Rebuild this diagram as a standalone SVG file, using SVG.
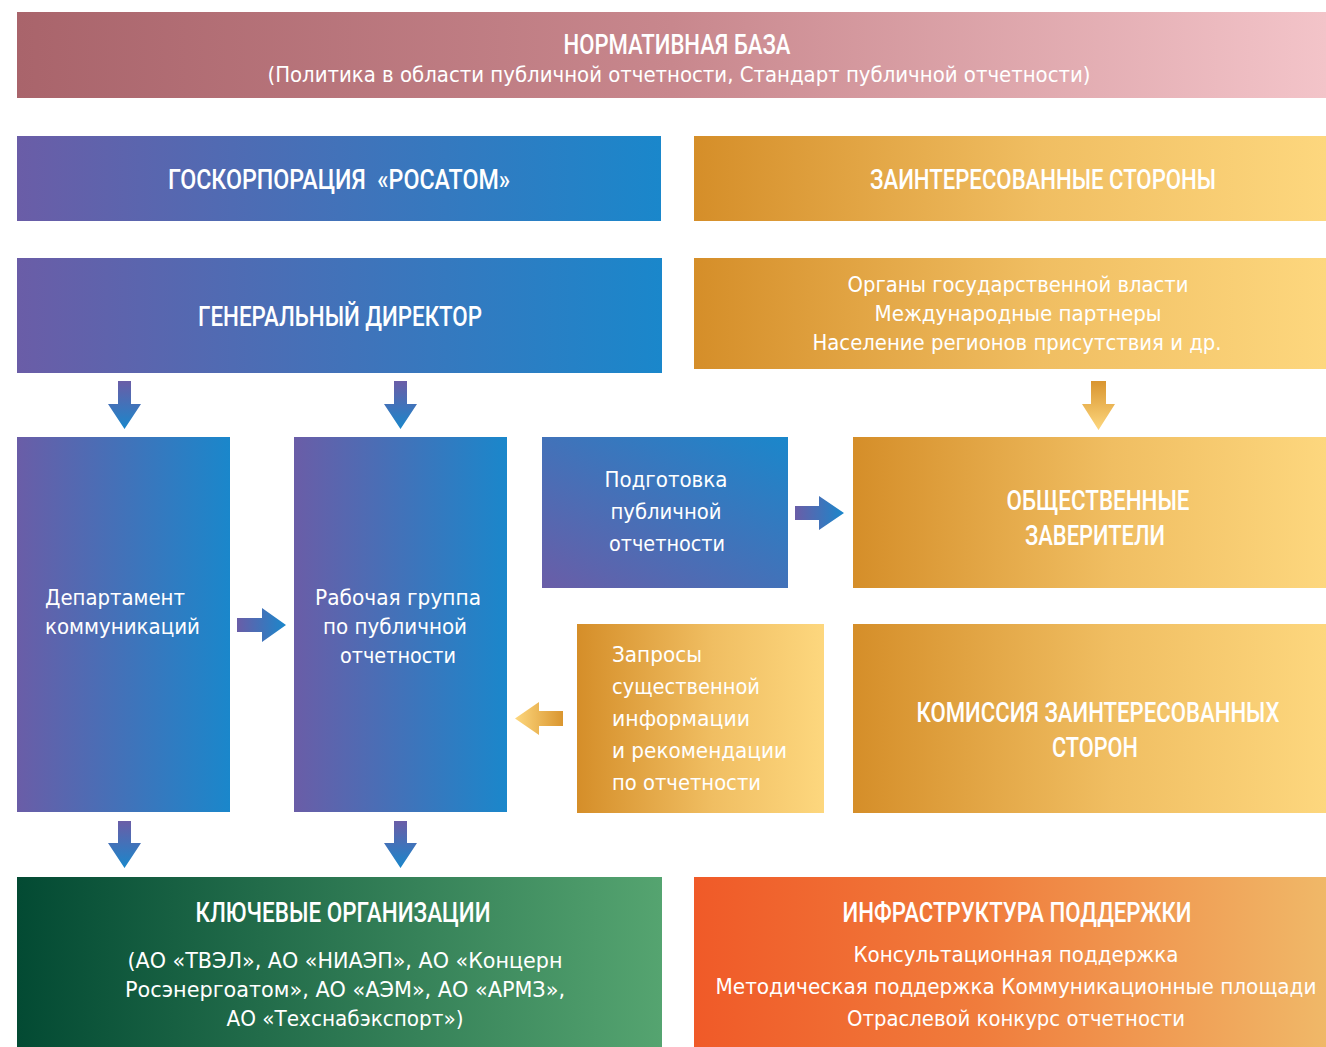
<svg xmlns="http://www.w3.org/2000/svg" width="1326" height="1047" viewBox="0 0 1326 1047">
<defs>
<linearGradient id="gPink" x1="0" y1="0" x2="1" y2="0"><stop offset="0" stop-color="#A9646B"/><stop offset="0.5" stop-color="#C8878D"/><stop offset="1" stop-color="#F3C4C9"/></linearGradient>
<linearGradient id="gBlueH" x1="0" y1="0" x2="1" y2="0"><stop offset="0" stop-color="#6A5DA7"/><stop offset="1" stop-color="#1A87CB"/></linearGradient>
<linearGradient id="gBlueD" x1="0" y1="1" x2="1" y2="0"><stop offset="0" stop-color="#6A5DA7"/><stop offset="1" stop-color="#1A87CB"/></linearGradient>
<linearGradient id="gBlueV" x1="0" y1="0" x2="0" y2="1"><stop offset="0" stop-color="#6A5DA7"/><stop offset="1" stop-color="#1A87CB"/></linearGradient>
<linearGradient id="gOrH" x1="0" y1="0" x2="1" y2="0"><stop offset="0" stop-color="#D58E29"/><stop offset="0.55" stop-color="#F0BE62"/><stop offset="1" stop-color="#FDD77E"/></linearGradient>
<linearGradient id="gOrV" x1="0" y1="0" x2="0" y2="1"><stop offset="0" stop-color="#D9952F"/><stop offset="1" stop-color="#FDD77E"/></linearGradient>
<linearGradient id="gOrL" x1="1" y1="0" x2="0" y2="0"><stop offset="0" stop-color="#DA962F"/><stop offset="1" stop-color="#FDD77E"/></linearGradient>
<linearGradient id="gGreen" x1="0" y1="0" x2="1" y2="0"><stop offset="0" stop-color="#034A33"/><stop offset="1" stop-color="#55A470"/></linearGradient>
<linearGradient id="gInfra" x1="0" y1="0" x2="1" y2="0"><stop offset="0" stop-color="#F05A28"/><stop offset="0.45" stop-color="#F07C3C"/><stop offset="1" stop-color="#F0B868"/></linearGradient>
</defs>
<style>
text{font-family:"Liberation Sans Narrow","DejaVu Sans Condensed","Roboto Condensed",sans-serif;fill:#ffffff;}
.h{font-family:Roboto,"DejaVu Sans Condensed",sans-serif;font-size:28px;font-weight:500;text-anchor:middle;}
.t{font-size:22px;text-anchor:middle;}
.l{font-size:22px;}
</style>

<g id="normativnaya-baza">
<rect x="17" y="12" width="1309" height="86" fill="url(#gPink)"/>
<text class="h" x="677" y="54" textLength="227" lengthAdjust="spacingAndGlyphs">НОРМАТИВНАЯ БАЗА</text>
<text class="t" x="679" y="82" textLength="823" lengthAdjust="spacingAndGlyphs">(Политика в области публичной отчетности, Стандарт публичной отчетности)</text>
</g>

<g id="rosatom">
<rect x="17" y="136" width="644" height="85" fill="url(#gBlueH)"/>
<text class="h" x="339" y="189" textLength="342" lengthAdjust="spacingAndGlyphs" style="white-space:pre">ГОСКОРПОРАЦИЯ  «РОСАТОМ»</text>
</g>

<g id="stakeholders">
<rect x="694" y="136" width="632" height="85" fill="url(#gOrH)"/>
<text class="h" x="1043" y="189" textLength="346" lengthAdjust="spacingAndGlyphs">ЗАИНТЕРЕСОВАННЫЕ СТОРОНЫ</text>
</g>

<g id="gen-director">
<rect x="17" y="258" width="645" height="115" fill="url(#gBlueH)"/>
<text class="h" x="340" y="326" textLength="284" lengthAdjust="spacingAndGlyphs">ГЕНЕРАЛЬНЫЙ ДИРЕКТОР</text>
</g>

<g id="stakeholder-list">
<rect x="694" y="258" width="632" height="111" fill="url(#gOrH)"/>
<text class="t" x="1018" y="292" textLength="341" lengthAdjust="spacingAndGlyphs">Органы государственной власти</text>
<text class="t" x="1018" y="321" textLength="287" lengthAdjust="spacingAndGlyphs">Международные партнеры</text>
<text class="t" x="1017" y="350" textLength="409" lengthAdjust="spacingAndGlyphs">Население регионов присутствия и др.</text>
</g>

<g id="dept-communications">
<rect x="17" y="437" width="213" height="375" fill="url(#gBlueH)"/>
<text class="l" x="45" y="605" textLength="140" lengthAdjust="spacingAndGlyphs">Департамент</text>
<text class="l" x="45" y="634" textLength="155" lengthAdjust="spacingAndGlyphs">коммуникаций</text>
</g>

<g id="working-group">
<rect x="294" y="437" width="213" height="375" fill="url(#gBlueH)"/>
<text class="t" x="398" y="605" textLength="166" lengthAdjust="spacingAndGlyphs">Рабочая группа</text>
<text class="t" x="395" y="634" textLength="144" lengthAdjust="spacingAndGlyphs">по публичной</text>
<text class="t" x="398" y="663" textLength="116" lengthAdjust="spacingAndGlyphs">отчетности</text>
</g>

<g id="report-preparation">
<rect x="542" y="437" width="246" height="151" fill="url(#gBlueD)"/>
<text class="t" x="666" y="487" textLength="123" lengthAdjust="spacingAndGlyphs">Подготовка</text>
<text class="t" x="666" y="519" textLength="111" lengthAdjust="spacingAndGlyphs">публичной</text>
<text class="t" x="667" y="551" textLength="116" lengthAdjust="spacingAndGlyphs">отчетности</text>
</g>

<g id="public-assurers">
<rect x="853" y="437" width="473" height="151" fill="url(#gOrH)"/>
<text class="h" x="1098" y="510" textLength="183" lengthAdjust="spacingAndGlyphs">ОБЩЕСТВЕННЫЕ</text>
<text class="h" x="1095" y="545" textLength="140" lengthAdjust="spacingAndGlyphs">ЗАВЕРИТЕЛИ</text>
</g>

<g id="requests">
<rect x="577" y="624" width="247" height="189" fill="url(#gOrH)"/>
<text class="l" x="612" y="662" textLength="90" lengthAdjust="spacingAndGlyphs">Запросы</text>
<text class="l" x="612" y="694" textLength="148" lengthAdjust="spacingAndGlyphs">существенной</text>
<text class="l" x="612" y="726" textLength="138" lengthAdjust="spacingAndGlyphs">информации</text>
<text class="l" x="612" y="758" textLength="175" lengthAdjust="spacingAndGlyphs">и рекомендации</text>
<text class="l" x="612" y="790" textLength="149" lengthAdjust="spacingAndGlyphs">по отчетности</text>
</g>

<g id="stakeholder-commission">
<rect x="853" y="624" width="473" height="189" fill="url(#gOrH)"/>
<text class="h" x="1098" y="722" textLength="363" lengthAdjust="spacingAndGlyphs">КОМИССИЯ ЗАИНТЕРЕСОВАННЫХ</text>
<text class="h" x="1095" y="757" textLength="86" lengthAdjust="spacingAndGlyphs">СТОРОН</text>
</g>

<g id="key-organizations">
<rect x="17" y="877" width="645" height="170" fill="url(#gGreen)"/>
<text class="h" x="343" y="922" textLength="295" lengthAdjust="spacingAndGlyphs">КЛЮЧЕВЫЕ ОРГАНИЗАЦИИ</text>
<text class="t" x="345" y="968" textLength="435" lengthAdjust="spacingAndGlyphs">(АО «ТВЭЛ», АО «НИАЭП», АО «Концерн</text>
<text class="t" x="345" y="997" textLength="440" lengthAdjust="spacingAndGlyphs">Росэнергоатом», АО «АЭМ», АО «АРМЗ»,</text>
<text class="t" x="345" y="1026" textLength="237" lengthAdjust="spacingAndGlyphs">АО «Техснабэкспорт»)</text>
</g>

<g id="support-infrastructure">
<rect x="694" y="877" width="632" height="170" fill="url(#gInfra)"/>
<text class="h" x="1017" y="922" textLength="349" lengthAdjust="spacingAndGlyphs">ИНФРАСТРУКТУРА ПОДДЕРЖКИ</text>
<text class="t" x="1016" y="962" textLength="325" lengthAdjust="spacingAndGlyphs">Консультационная поддержка</text>
<text class="t" x="1016" y="994" textLength="601" lengthAdjust="spacingAndGlyphs">Методическая поддержка Коммуникационные площади</text>
<text class="t" x="1016" y="1026" textLength="338" lengthAdjust="spacingAndGlyphs">Отраслевой конкурс отчетности</text>
</g>

<g id="connectors">
<path d="M118 381 H131 V404 H141 L124.5 429 L108 404 H118 Z" fill="url(#gBlueV)"/>
<path d="M394 381 H407 V404 H417 L400.5 429 L384 404 H394 Z" fill="url(#gBlueV)"/>
<path d="M1091 381 H1106 V404 H1115 L1098.5 430 L1082 404 H1091 Z" fill="url(#gOrV)"/>
<path d="M237 618 H262 V608 L286 625 L262 642 V632 H237 Z" fill="url(#gBlueH)"/>
<path d="M795 506 H819 V496 L844 513 L819 530 V520 H795 Z" fill="url(#gBlueH)"/>
<path d="M563 711 H539 V702 L515 718.5 L539 735 V726 H563 Z" fill="url(#gOrL)"/>
<path d="M118 821 H131 V843 H141 L124.5 868 L108 843 H118 Z" fill="url(#gBlueV)"/>
<path d="M394 821 H407 V843 H417 L400.5 868 L384 843 H394 Z" fill="url(#gBlueV)"/>
</g>
</svg>
